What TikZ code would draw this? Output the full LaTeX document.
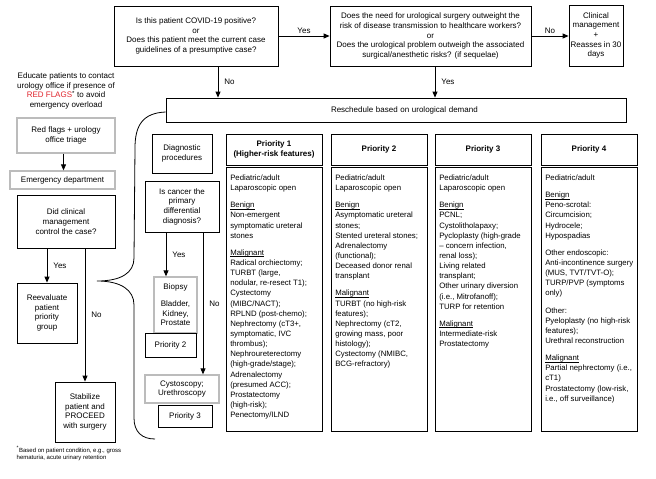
\documentclass[tikz,border=0pt]{standalone}
\usepackage{fontspec}
\setmainfont{Liberation Sans}
\usetikzlibrary{arrows.meta,calc}
\definecolor{redflag}{HTML}{E0242C}
\definecolor{boxgray}{HTML}{BCBCBC}
\newcommand\ulword[1]{\setbox0\hbox{#1}\rlap{\rule[-1.5pt]{\wd0}{0.45pt}}\box0}
\begin{document}
\begin{tikzpicture}[x=1pt,y=-1pt,
  font=\fontsize{8}{9.7}\selectfont,
  box/.style={draw=black, line width=0.8pt, inner sep=0pt, align=center},
  gbox/.style={draw=boxgray, line width=1.3pt, inner sep=0pt, align=center},
  pbox/.style={draw=black, line width=0.9pt, inner sep=0pt, align=center, minimum width=96pt},
  arr/.style={-{Triangle[length=6pt,width=5pt]}, line width=0.8pt},
  lbl/.style={inner sep=0pt, font=\fontsize{8}{9.7}\selectfont},
  body/.style={inner sep=0pt, align=left, anchor=north west, font=\fontsize{7.8}{10.15}\selectfont}]
\fill[white] (0,0) rectangle (656,479);
\useasboundingbox (0,0) rectangle (656,479);

% top row
\node[box, minimum width=164pt, minimum height=60pt] (q1) at (196,36)
  {Is this patient COVID-19 positive?\\or\\Does this patient meet the current case\\guidelines of a presumptive case?};
\node[box, minimum width=201pt, minimum height=60pt] (q2) at (430.5,36)
  {Does the need for urological surgery outweight the\\risk of disease transmission to healthcare workers?\\or\\Does the urological problem outweigh the associated\\surgical/anesthetic risks? (if sequelae)};
\node[box, minimum width=54pt, minimum height=61pt] (cm) at (596,35.5)
  {Clinical\\management\\+\\Reasses in 30\\days};
\node[box, minimum width=460pt, minimum height=24pt, text width=460pt, align=left] (resch) at (396,110)
  {\hspace*{165pt}Reschedule based on urological demand};

\draw[arr] (q1) -- node[lbl, above=2.5pt] (lyes1) {Yes} (q2);
\draw[arr] (q2.east) -- (q2.east -| cm.west) node[lbl, midway, above=2.5pt] (lno1) {No};
\draw[arr] ([xshift=22pt]q1.south) -- ([xshift=22pt]q1.south |- resch.north) node[lbl, midway, right=6pt] (lno2) {No};
\draw[arr] ([xshift=4.5pt]q2.south) -- ([xshift=4.5pt]q2.south |- resch.north) node[lbl, midway, right=6pt] (lyes2) {Yes};

% left column
\node[lbl, align=center] (edu) at (66,91)
  {Educate patients to contact\\urology office if presence of\\\textcolor{redflag}{RED FLAGS}\textsuperscript{*} to avoid\\emergency overload};
\node[gbox, minimum width=98pt, minimum height=35pt] (rf) at (66,135.5) {Red flags + urology\\office triage};
\node[gbox, minimum width=105pt, minimum height=18pt] (ed) at (62.5,180) {Emergency department};
\node[box, minimum width=98pt, minimum height=53pt] (did) at (66,221.5) {Did clinical\\management\\control the case?};
\node[box, minimum width=60pt, minimum height=60pt] (reev) at (47,313) {Reevaluate\\patient\\priority\\group};
\node[box, minimum width=60pt, minimum height=60pt] (stab) at (85,412) {Stabilize\\patient and\\PROCEED\\with surgery};
\node[anchor=north west, inner sep=0pt, align=left, font=\fontsize{6}{7.4}\selectfont] (foot) at (16.5,446)
  {\textsuperscript{*}Based on patient condition, e.g., gross\\hematuria, acute urinary retention};

\draw[arr] ([xshift=-2.5pt]rf.south) -- ([xshift=-2.5pt]rf.south |- ed.north);
\draw[arr] (did.south -| reev.north) -- (reev.north) node[lbl, midway, right=6pt] (lyes3) {Yes};
\draw[arr] (did.south -| stab.north) -- (stab.north) node[lbl, midway, right=6pt] (lno3) {No};

% brace
\draw[line width=0.8pt] ([yshift=-2pt]resch.west) .. controls (143,113) and (135,125) .. (135,148)
  -- (134,258) .. controls (134,273) and (121,281) .. (97,281)
  .. controls (121,281) and (134,290) .. (134,305)
  -- (134,418) .. controls (134,432) and (142,439) .. (155,439);

% middle column
\node[box, minimum width=60pt, minimum height=39pt] (diag) at (182,153.5) {Diagnostic\\procedures};
\node[box, minimum width=74pt, minimum height=51pt] (canc) at (182,206.5) {Is cancer the\\primary\\differential\\diagnosis?};
\node[gbox, minimum width=43pt, minimum height=56pt] (biop) at (175.5,305) {Biopsy\\[7pt]Bladder,\\Kidney,\\Prostate};
\node[box, minimum width=51pt, minimum height=24pt] (p2s) at (170.5,345) {Priority 2};
\node[gbox, minimum width=74pt, minimum height=28pt] (cys) at (182,389) {Cystoscopy;\\Urethroscopy};
\node[box, minimum width=54pt, minimum height=22pt] (p3s) at (185,416) {Priority 3};

\draw[arr] ([xshift=-16pt]canc.south) -- ([xshift=-16pt]canc.south |- biop.north) node[lbl, midway, right=6pt] (lyes4) {Yes};
\draw[arr] ([xshift=21pt]canc.south) -- ([xshift=21pt]canc.south |- cys.north) node[lbl, midway, right=6pt] (lno4) {No};

% priority columns
\node[pbox, minimum height=31pt, font=\fontsize{8}{9.7}\bfseries] (h1) at (274,149.5) {Priority 1\\(Higher-risk features)};
\node[pbox, minimum height=31pt, font=\fontsize{8}{9.7}\bfseries] (h2) at (379,149.5) {Priority 2};
\node[pbox, minimum height=31pt, font=\fontsize{8}{9.7}\bfseries] (h3) at (483,149.5) {Priority 3};
\node[pbox, minimum height=31pt, font=\fontsize{8}{9.7}\bfseries] (h4) at (589,149.5) {Priority 4};

\node[pbox, minimum height=264pt] (b1) at (274,299) {};
\node[pbox, minimum height=264pt] (b2) at (379,299) {};
\node[pbox, minimum height=264pt] (b3) at (483,299) {};
\node[pbox, minimum height=264pt] (b4) at (589,299) {};

\node[body] (t1) at ([xshift=4.5pt,yshift=-8pt]b1.north west)
  {Pediatric/adult\\Laparoscopic open\\[7pt]
   \ulword{Benign}\\Non-emergent\\symptomatic ureteral\\stones\\[7pt]
   \ulword{Malignant}\\Radical orchiectomy;\\TURBT (large,\\nodular, re-resect T1);\\Cystectomy\\(MIBC/NACT);\\RPLND (post-chemo);\\Nephrectomy (cT3+,\\symptomatic, IVC\\thrombus);\\Nephroureterectomy\\(high-grade/stage);\\Adrenalectomy\\(presumed ACC);\\Prostatectomy\\(high-risk);\\Penectomy/ILND};
\node[body] (t2) at ([xshift=4.5pt,yshift=-8pt]b2.north west)
  {Pediatric/adult\\Laparoscopic open\\[7pt]
   \ulword{Benign}\\Asymptomatic ureteral\\stones;\\Stented ureteral stones;\\Adrenalectomy\\(functional);\\Deceased donor renal\\transplant\\[7pt]
   \ulword{Malignant}\\TURBT (no high-risk\\features);\\Nephrectomy (cT2,\\growing mass, poor\\histology);\\Cystectomy (NMIBC,\\BCG-refractory)};
\node[body] (t3) at ([xshift=4.5pt,yshift=-8pt]b3.north west)
  {Pediatric/adult\\Laparoscopic open\\[7pt]
   \ulword{Benign}\\PCNL;\\Cystolitholapaxy;\\Pycloplasty (high-grade\\– concern infection,\\renal loss);\\Living related\\transplant;\\Other urinary diversion\\(i.e., Mitrofanoff);\\TURP for retention\\[7pt]
   \ulword{Malignant}\\Intermediate-risk\\Prostatectomy};
\node[body] (t4) at ([xshift=4.5pt,yshift=-8pt]b4.north west)
  {Pediatric/adult\\[7pt]
   \ulword{Benign}\\Peno-scrotal:\\Circumcision;\\Hydrocele;\\Hypospadias\\[7pt]
   Other endoscopic:\\Anti-incontinence surgery\\(MUS, TVT/TVT-O);\\TURP/PVP (symptoms\\only)\\[7pt]
   Other:\\Pyeloplasty (no high-risk\\features);\\Urethral reconstruction\\[7pt]
   \ulword{Malignant}\\Partial nephrectomy (i.e.,\\cT1)\\Prostatectomy (low-risk,\\i.e., off surveillance)};
\end{tikzpicture}
\end{document}
